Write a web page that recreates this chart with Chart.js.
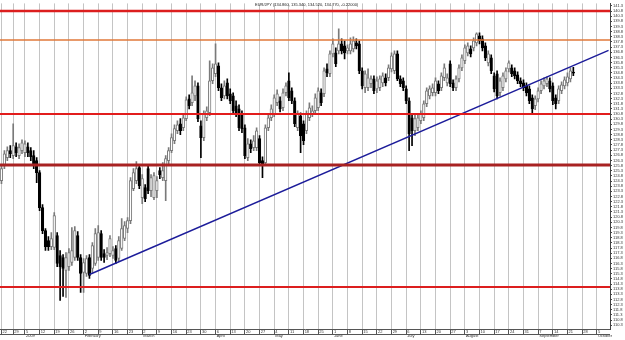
<!DOCTYPE html>
<html>
<head>
<meta charset="utf-8">
<title>EUR/JPY</title>
<script src="https://cdn.jsdelivr.net/npm/chart.js@4.4.1/dist/chart.umd.min.js"></script>
<style>
  html, body { margin: 0; padding: 0; background: #fff; }
  #wrap { width: 625px; height: 340px; position: relative; }
</style>
</head>
<body>
<div id="wrap"><canvas id="chart"></canvas></div>
<script>
// weekly ticks (Monday of each week) and the month / year written under them
const weekLabels  = ['22','29','5','12','19','26','2','9','16','23','2','9','16','23','30','6','13','20','27','4','11','18','25',
                     '1','8','15','22','29','6','13','20','27','3','10','17','24','31','7','14','21','28','5'];
const weekMonths  = ['','','2009','','','','February','','','','March','','','','','April','','','','May','','','',
                     'June','','','','','July','','','','August','','','','','September','','','','October'];
const weekLengths = [4,4,5,5,5,5,5,5,5,5,5,5,5,5,5,5,5,5,5,5,5,5,5,5,5,5,5,5,5,5,5,5,5,5,5,5,5,5,5,5,5,5];

// daily candles, EUR/JPY
const openPrices = [
  124.34,125.79,126.57,127.25,126.76,127.63,126.76,127.25,127.05,127.63,
  127.25,126.76,126.28,125.11,121.72,119.49,118.52,117.94,117.85,119.01,
  117.07,116.88,115.62,116.00,116.39,116.88,119.01,116.88,115.42,115.33,
  116.88,115.81,116.30,116.88,119.20,117.26,117.07,117.26,117.07,117.75,
  116.78,117.75,118.72,119.69,120.46,123.56,124.34,125.60,122.69,123.66,
  125.50,123.37,122.69,123.37,125.31,124.63,124.34,126.28,127.25,128.21,
  129.18,129.86,129.47,130.35,132.28,131.90,132.57,133.54,129.67,128.51,
  130.44,130.93,134.03,134.71,135.48,133.35,132.57,133.83,132.77,132.57,
  131.61,131.31,130.83,129.47,126.57,127.92,127.54,127.54,128.41,126.28,
  126.08,129.47,130.44,130.83,131.90,132.09,131.41,132.87,134.03,133.06,
  132.09,129.47,130.64,129.86,129.18,130.44,130.83,131.12,131.41,132.87,
  132.77,135.19,134.71,136.64,136.74,136.94,137.61,137.42,136.94,136.94,
  137.13,137.71,137.61,135.00,133.35,133.35,133.74,134.22,133.25,133.35,
  133.83,134.32,134.32,135.19,135.00,136.64,134.22,134.03,133.25,132.09,
  130.44,129.18,129.47,130.15,130.44,131.80,132.57,132.87,132.87,133.74,
  133.35,134.32,133.83,135.68,133.83,133.35,134.22,135.29,135.97,136.74,
  137.13,137.23,137.71,138.39,138.10,137.42,135.77,136.26,134.51,134.71,
  132.87,133.35,134.22,135.19,135.29,135.00,134.61,134.03,133.83,133.54,
  133.25,132.38,131.61,132.28,133.06,133.54,133.74,134.03,133.54,132.38,
  132.09,133.06,133.54,133.83,134.22,134.86
];
const highPrices = [
  125.79,127.25,127.63,127.73,129.86,128.02,127.92,128.31,128.21,128.02,
  127.54,127.25,126.57,125.31,122.01,119.69,118.91,119.30,121.24,119.30,
  117.56,117.17,117.36,117.75,119.78,119.88,119.40,117.17,116.78,117.07,
  117.17,118.33,119.69,119.98,119.49,117.65,117.85,119.01,117.94,118.04,
  118.91,120.66,120.37,120.75,124.63,125.50,126.18,125.89,124.92,123.95,
  125.79,124.92,125.11,124.73,125.60,126.08,126.76,127.54,128.89,129.76,
  130.15,130.35,130.83,132.48,132.67,134.51,134.03,133.83,130.15,131.12,
  131.51,135.97,135.68,137.61,135.77,133.74,134.03,134.22,133.25,132.87,
  132.09,131.70,131.12,129.76,128.41,128.31,128.70,129.47,128.70,126.66,
  129.76,130.83,131.70,132.67,133.16,132.48,133.25,133.83,134.80,133.35,
  132.38,131.12,130.93,130.15,131.12,131.90,131.61,132.77,133.35,133.25,
  135.29,135.68,136.94,138.10,137.23,139.07,138.10,137.90,137.52,138.19,
  138.29,138.10,137.90,135.29,135.00,135.19,134.51,134.51,134.42,134.51,
  134.80,134.71,135.58,136.74,136.94,136.94,134.51,134.32,133.54,132.38,
  130.83,130.73,130.83,131.12,132.09,133.35,133.54,133.74,134.32,134.03,
  134.80,135.68,134.71,135.97,134.13,134.51,135.58,136.55,137.52,137.71,
  137.42,138.19,138.68,138.68,138.39,137.71,136.94,136.55,134.80,135.00,
  134.32,134.80,135.29,135.97,135.58,135.29,134.90,134.32,134.13,133.83,
  133.54,132.67,132.57,133.35,134.03,134.32,134.42,134.32,133.83,132.67,
  133.54,133.93,134.42,134.80,135.29,135.34
];
const lowPrices = [
  124.05,125.50,126.28,126.57,126.47,126.66,126.47,126.95,126.66,126.66,
  126.28,125.50,124.14,121.43,119.20,117.56,117.56,117.65,117.65,116.00,
  112.71,113.10,113.00,115.62,116.10,116.59,116.59,113.49,113.49,115.04,
  114.84,115.42,116.10,116.59,116.59,116.39,116.68,116.97,116.78,116.30,
  116.49,117.56,118.52,119.30,120.17,123.37,124.05,123.56,122.11,122.30,
  123.08,122.79,122.50,122.69,124.53,124.34,122.40,125.99,127.05,127.92,
  128.89,128.80,129.18,130.15,131.31,131.61,132.09,130.06,126.57,128.21,
  130.15,130.64,133.74,134.42,133.06,132.09,132.28,132.28,131.80,130.83,
  130.54,129.18,128.99,126.47,126.28,127.05,127.25,127.25,125.79,124.63,
  125.79,129.18,130.15,130.54,131.61,131.02,131.12,132.57,132.09,131.80,
  129.57,129.18,127.05,127.83,128.89,130.15,130.54,130.83,131.12,131.61,
  132.48,134.42,134.42,136.35,135.39,136.64,136.64,136.16,136.64,136.64,
  136.84,137.13,134.71,133.25,132.87,133.06,133.35,132.77,132.87,133.06,
  133.45,133.54,134.03,134.90,134.71,134.03,133.45,133.06,131.80,127.25,
  127.73,128.70,129.18,129.86,130.15,131.51,132.28,132.57,132.57,132.77,
  133.06,134.03,133.54,133.45,133.06,133.06,133.93,135.00,135.68,136.45,
  136.35,136.94,137.42,137.61,136.94,135.97,135.48,134.71,132.96,132.28,
  132.57,133.06,133.93,134.90,134.42,134.22,133.74,133.45,133.06,132.57,
  131.80,130.93,131.22,131.99,132.77,133.25,133.45,132.96,131.70,131.31,
  131.80,132.77,133.25,133.54,133.93,134.52
];
const closePrices = [
  125.50,126.95,127.25,126.95,127.73,127.05,127.54,128.02,127.92,127.05,
  126.66,125.79,125.11,121.72,119.49,117.94,117.94,118.72,120.95,116.30,
  116.00,115.81,116.88,117.36,117.56,119.49,116.88,115.33,116.39,116.78,
  115.13,118.04,119.20,119.30,116.88,116.88,117.36,118.72,117.56,116.59,
  118.52,119.69,119.98,120.46,124.34,125.11,125.50,123.85,124.53,122.59,
  123.37,124.63,124.82,124.34,124.92,125.31,126.47,127.25,128.51,129.38,
  129.76,129.18,130.44,132.19,131.61,132.87,133.54,130.35,128.51,130.83,
  131.12,134.03,135.29,135.68,133.35,132.38,133.54,132.57,132.09,131.12,
  130.93,129.47,129.38,126.76,127.92,127.44,128.21,129.18,126.08,125.99,
  129.47,130.44,131.31,132.38,132.77,131.31,132.87,133.54,132.38,132.09,
  129.86,130.83,128.70,128.21,130.83,131.41,131.12,132.38,133.06,131.90,
  135.00,134.80,136.64,137.61,135.68,137.61,136.94,136.74,137.23,137.61,
  137.90,137.42,135.00,133.54,134.71,134.32,134.22,133.06,134.03,134.22,
  134.51,133.83,135.29,136.45,136.64,134.22,133.74,133.35,132.09,128.89,
  129.18,130.35,130.44,130.83,131.80,133.06,133.25,133.35,134.03,133.06,
  134.51,135.29,134.32,133.74,133.35,134.22,135.29,136.26,137.23,137.42,
  136.64,137.90,138.58,137.90,137.23,136.26,136.64,135.00,133.25,132.57,
  134.03,134.51,135.00,135.77,134.71,134.51,134.03,133.74,133.35,132.87,
  132.09,131.31,132.28,133.06,133.74,134.03,134.22,133.25,132.09,131.80,
  133.25,133.64,134.13,134.42,135.00,134.77
];

// price axis labels on the right
const yTickValues = [
  141.3,140.8,140.3,139.8,139.3,138.8,138.3,137.8,137.3,136.8,
  136.3,135.8,135.3,134.8,134.3,133.8,133.3,132.8,132.3,131.8,
  131.3,130.8,130.3,129.8,129.3,128.8,128.3,127.8,127.3,126.8,
  126.3,125.8,125.3,124.8,124.3,123.8,123.3,122.8,122.3,121.8,
  121.3,120.8,120.3,119.8,119.3,118.8,118.3,117.8,117.3,116.8,
  116.3,115.8,115.3,114.8,114.3,113.8,113.3,112.8,112.3,111.8,
  111.3,110.8,110.3
];

// horizontal support / resistance levels
const levelValues = [140.8, 138.0, 130.8, 125.9, 114.0];
const levelColors = ['#dc1e1e', '#e0783a', '#e21c1c', '#a82222', '#dc1e1e'];
const levelWidths = [2.5, 1.5, 2, 3, 2.2];

// trend line: from the February low to the right edge
const trendIndex  = [30, 207];
const trendPrices = [115.23, 136.98];

const titleText = 'EUR/JPY (134.860, 135.340, 134.520, 134.770, -0.22000)';

// category per trading day, label only on Mondays
const categories = [];
const tickText = [];
weekLabels.forEach((lab, w) => {
  for (let d = 0; d < weekLengths[w]; d++) {
    categories.push(w + '-' + d);
    if (d > 0) tickText.push(null);
    else tickText.push(weekMonths[w] ? [' ' + lab, ' ' + weekMonths[w]] : ' ' + lab);
  }
});

const isUp   = openPrices.map((o, i) => closePrices[i] >= o);
const wicks  = lowPrices.map((l, i) => [l, highPrices[i]]);
const bodies = openPrices.map((o, i) => [o, closePrices[i]]);

const trendData = categories.map(() => null);
trendIndex.forEach((ix, k) => { trendData[ix] = trendPrices[k]; });

const FONT = 'Liberation Sans';

const overlay = {
  id: 'overlay',
  afterDatasetsDraw(chart) {
    const { ctx, chartArea, scales: { y } } = chart;
    ctx.save();
    levelValues.forEach((v, i) => {
      const py = Math.round(y.getPixelForValue(v));
      ctx.strokeStyle = levelColors[i];
      ctx.lineWidth = levelWidths[i];
      ctx.beginPath();
      ctx.moveTo(chartArea.left, py);
      ctx.lineTo(chartArea.right, py);
      ctx.stroke();
    });
    ctx.restore();
  },
  afterDraw(chart) {
    const { ctx, chartArea } = chart;
    ctx.save();
    // bottom edge of the date strip
    ctx.strokeStyle = '#555';
    ctx.lineWidth = 1;
    ctx.beginPath();
    ctx.moveTo(chartArea.left, chartArea.bottom + 5.5);
    ctx.lineTo(chartArea.right, chartArea.bottom + 5.5);
    ctx.stroke();
    // header text
    ctx.fillStyle = '#222';
    ctx.font = '4px "' + FONT + '"';
    ctx.textBaseline = 'middle';
    ctx.textAlign = 'left';
    ctx.fillText(titleText, chartArea.left + 255, 5);
    ctx.restore();
  }
};

new Chart(document.getElementById('chart'), {
  type: 'bar',
  data: {
    labels: categories,
    datasets: [
      {
        type: 'line',
        data: trendData,
        borderColor: '#1c1c9a',
        borderWidth: 1.4,
        pointRadius: 0,
        spanGaps: true,
        order: 0,
      },
      {
        data: bodies,
        backgroundColor: isUp.map(u => u ? '#ffffff' : '#000000'),
        borderColor: isUp.map(u => u ? '#7a7a7a' : '#000000'),
        borderWidth: 1,
        borderSkipped: false,
        barThickness: 2.6,
        minBarLength: 1,
        grouped: false,
        order: 1,
      },
      {
        data: wicks,
        backgroundColor: isUp.map(u => u ? '#7a7a7a' : '#000000'),
        borderWidth: 0,
        barThickness: 1,
        grouped: false,
        order: 2,
      },
    ],
  },
  options: {
    responsive: true,
    maintainAspectRatio: false,
    animation: false,
    devicePixelRatio: 1,
    layout: { padding: 0 },
    plugins: { legend: { display: false }, tooltip: { enabled: false }, title: { display: false } },
    scales: {
      x: {
        grid: {
          offset: false,
          color: '#c4c4c4',
          borderDash: [1, 2],
          tickLength: 5,
          tickColor: '#555',
          tickBorderDash: [],
        },
        border: { color: '#555' },
        ticks: {
          autoSkip: false,
          maxRotation: 0,
          minRotation: 0,
          align: 'start',
          padding: -5,
          color: '#333',
          font: { family: FONT, size: 4 },
          callback: (v, i) => tickText[i],
        },
        afterFit: s => { s.height = 11; },
      },
      y: {
        position: 'right',
        min: 109.94,
        max: 141.54,
        grid: { drawOnChartArea: false, tickLength: 2, tickColor: '#444' },
        border: { color: '#444' },
        afterBuildTicks: s => { s.ticks = yTickValues.map(v => ({ value: v })); },
        ticks: {
          autoSkip: false,
          padding: 1,
          color: '#333',
          font: { family: FONT, size: 4 },
          callback: v => v.toFixed(1),
        },
        afterFit: s => { s.width = 15; },
      },
    },
  },
  plugins: [overlay],
});
</script>
</body>
</html>
